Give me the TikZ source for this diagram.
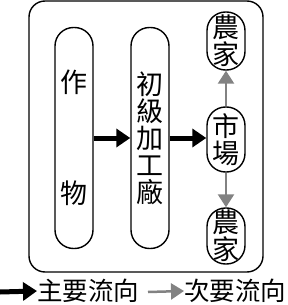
\documentclass[tikz,border=0pt]{standalone}
\usepackage{fontspec}
\setmainfont{Noto Sans CJK TC}
\usepackage{xcolor}
\usetikzlibrary{arrows.meta,positioning}
\definecolor{minorgray}{RGB}{130,130,130}

\begin{document}
\begin{tikzpicture}[
        x=1pt, y=-1pt,
        every node/.style={font=\fontsize{27}{27}\selectfont, inner sep=0pt},
        area/.style={
            draw,
            line width=1.4pt,
            rounded corners=16pt,
            minimum width=234pt,
            minimum height=271pt
        },
        pill/.style={
            draw,
            line width=1.4pt,
            rounded corners=18.5pt,
            minimum width=38pt,
            align=center
        },
        mainarrow/.style={-{Triangle[length=14pt, width=18pt]}, line width=5pt},
        minorarrow/.style={-{Triangle[length=13pt, width=16pt]}, line width=2.5pt, minorgray},
        legend/.style={font=\fontsize{25.5}{25.5}\selectfont, anchor=west}
    ]
        \useasboundingbox (0,0) rectangle (287,305);

        \node[area] (zone) at (146,136.5) {};

        \node[pill, minimum height=221pt] (crop)    at (74,138)  {作\\[84pt]物};
        \node[pill, minimum height=221pt] (factory) at (150,138) {初\\級\\加\\工\\廠};
        \node[pill, minimum height=58pt]  (farmA)   at (226,41)  {農\\家};
        \node[pill, minimum height=65pt]  (market)  at (226,139.5) {市\\場};
        \node[pill, minimum height=56pt]  (farmB)   at (226,236) {農\\家};

        \draw[mainarrow] (crop.east) -- (factory.west);
        \draw[mainarrow] (factory.east) -- (factory.east -| market.west);
        \draw[minorarrow] (market.north) -- (farmA.south);
        \draw[minorarrow] (market.south) -- (farmB.north);

        \coordinate (keyA) at (0,292);
        \coordinate (keyB) at (148,292);
        \node[legend] (mainkey)  at (37,291)  {主要流向};
        \node[legend] (minorkey) at (184,291) {次要流向};

        \draw[mainarrow]  (keyA) -- (mainkey.west);
        \draw[minorarrow] (keyB) -- (minorkey.west);

    \end{tikzpicture}
\end{document}
